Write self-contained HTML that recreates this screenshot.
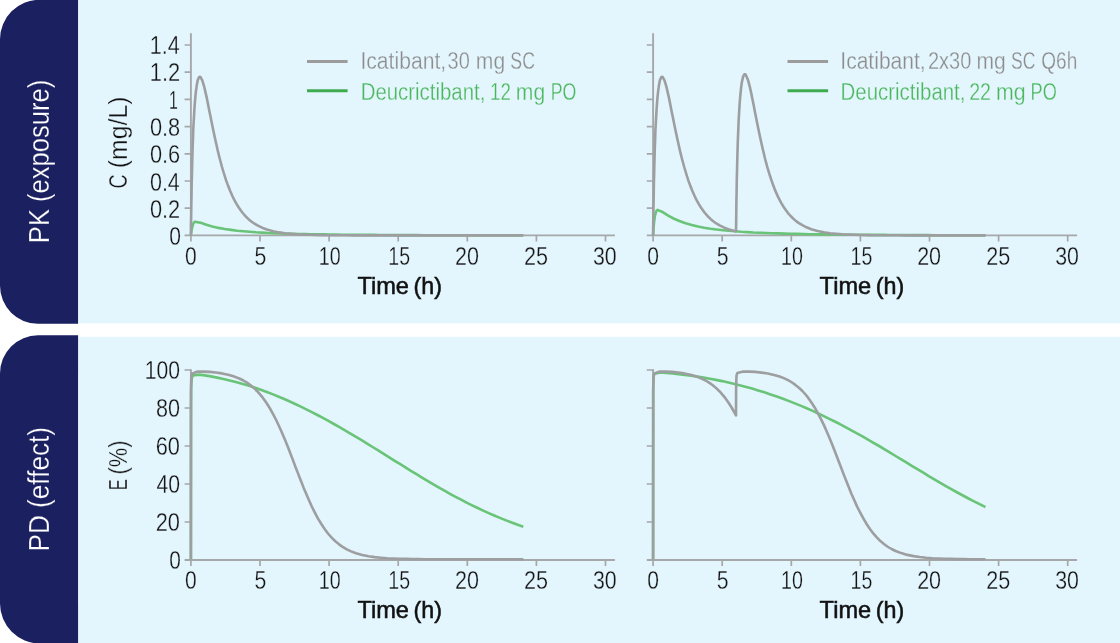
<!DOCTYPE html>
<html><head><meta charset="utf-8"><title>PK/PD</title>
<style>
html,body{margin:0;padding:0;background:#fff;}
body{width:1120px;height:643px;overflow:hidden;font-family:"Liberation Sans",sans-serif;}
svg{display:block;will-change:transform;}
svg text{font-family:"Liberation Sans",sans-serif;}
</style></head><body>
<svg width="1120" height="643" viewBox="0 0 1120 643">
<rect width="1120" height="643" fill="#ffffff"/>
<rect x="78.9" y="0" width="1042" height="323.3" fill="#e3f5fd"/>
<rect x="78.9" y="336.8" width="1042" height="310" fill="#e3f5fd"/>
<path d="M78.1,-0.2H39.5A39.5,39.5 0 0 0 0,39.3V285.8A38,38 0 0 0 38,323.8H78.1Z" fill="#1b2060"/>
<path d="M78.1,335.3H38A38,38 0 0 0 0,373.3V603.5A40,40 0 0 0 40,643.5H78.1Z" fill="#1b2060"/>
<text transform="translate(49,243.15) rotate(-90)" font-size="29.5" fill="#ffffff" font-weight="normal" textLength="163.41" lengthAdjust="spacingAndGlyphs" stroke="#1b2060" stroke-width="0.3">PK (exposure)</text>
<text transform="translate(49,551.49) rotate(-90)" font-size="29.5" fill="#ffffff" font-weight="normal" textLength="124.50" lengthAdjust="spacingAndGlyphs" stroke="#1b2060" stroke-width="0.3">PD (effect)</text>
<path d="M190.9,33.3V235.4M184.6,235.4H614.9" stroke="#a6a7a9" stroke-width="1.9" fill="none"/>
<path d="M184.6,208.2H190.9M184.6,181.0H190.9M184.6,153.8H190.9M184.6,126.6H190.9M184.6,99.4H190.9M184.6,72.2H190.9M184.6,45.0H190.9M190.9,235.4V241.4M260.0,235.4V241.4M329.1,235.4V241.4M398.2,235.4V241.4M467.3,235.4V241.4M536.4,235.4V241.4M605.5,235.4V241.4" stroke="#a6a7a9" stroke-width="1.7" fill="none"/>
<path d="M190.9,235.4L191.7,229.3L193.2,223.5L194.8,221.7L200.7,222.8L206.4,224.8L212.3,226.4L218.5,227.9L224.8,229.0L231.0,229.9L237.2,230.7L243.4,231.3L249.6,231.8L255.9,232.3L262.1,232.6L268.3,233.0L274.3,233.2L280.3,233.5L286.3,233.7L292.3,233.8L298.7,234.0L304.9,234.1L311.1,234.2L317.4,234.3L323.6,234.4L329.8,234.5L336.0,234.6L342.2,234.7L348.4,234.7L354.7,234.8L360.9,234.8L367.1,234.9L373.3,234.9L379.5,235.0L385.8,235.0L392.0,235.0L398.2,235.1L404.4,235.1L410.6,235.1L416.9,235.1L423.1,235.2L429.3,235.2L435.5,235.2L441.7,235.2L448.0,235.2L454.2,235.2L460.4,235.2L466.6,235.3L472.8,235.3L479.0,235.3L485.3,235.3L491.5,235.3L497.7,235.3L503.9,235.3L510.1,235.3L516.4,235.3L522.6,235.3L523.3,235.3" stroke="#69c478" stroke-width="2.6" fill="none" stroke-linejoin="round"/>
<path d="M190.9,235.4L191.0,224.3L191.2,214.2L191.3,205.1L191.5,196.7L191.6,189.1L191.7,182.0L191.9,175.6L192.1,166.7L192.3,158.9L192.5,151.8L192.7,145.3L193.0,137.7L193.2,130.8L193.5,124.7L193.9,118.0L194.3,110.9L194.7,104.8L195.2,98.7L195.8,92.3L196.6,86.3L197.7,80.3L199.0,77.2L199.7,76.7L200.4,76.9L202.3,80.3L204.1,86.3L205.5,92.4L206.9,98.4L208.1,104.5L209.3,110.7L210.5,116.6L212.3,125.5L213.7,132.3L215.1,138.7L216.5,145.0L217.8,150.9L219.9,159.3L222.0,167.0L224.1,174.0L226.1,180.4L228.2,186.1L230.3,191.3L232.4,196.0L234.4,200.2L236.5,203.9L238.6,207.3L240.7,210.3L242.7,213.0L245.5,216.2L248.3,218.9L251.0,221.2L254.5,223.7L257.9,225.7L262.1,227.7L266.9,229.5L273.1,231.2L279.1,232.4L285.0,233.2L291.0,233.8L297.3,234.3L303.5,234.6L309.8,234.8L316.0,235.0L322.2,235.1L328.4,235.2L334.6,235.3L340.8,235.3L347.1,235.3L353.3,235.4L359.5,235.4L365.7,235.4L371.9,235.4L378.2,235.4L384.4,235.4L390.6,235.4L396.8,235.4L403.0,235.4L409.3,235.4L415.5,235.4L421.7,235.4L427.9,235.4L434.1,235.4L440.4,235.4L446.6,235.4L452.8,235.4L459.0,235.4L465.2,235.4L471.4,235.4L477.7,235.4L483.9,235.4L490.1,235.4L496.3,235.4L502.5,235.4L508.8,235.4L515.0,235.4L521.2,235.4L523.3,235.4" stroke="#9d9ea0" stroke-width="2.6" fill="none" stroke-linejoin="round"/>
<path d="M190.9,369.2V560.0M184.6,560.0H614.9" stroke="#a6a7a9" stroke-width="1.9" fill="none"/>
<path d="M184.6,522.0H190.9M184.6,484.0H190.9M184.6,446.0H190.9M184.6,408.0H190.9M184.6,370.0H190.9M190.9,560.0V566.0M260.0,560.0V566.0M329.1,560.0V566.0M398.2,560.0V566.0M467.3,560.0V566.0M536.4,560.0V566.0M605.5,560.0V566.0" stroke="#a6a7a9" stroke-width="1.7" fill="none"/>
<path d="M190.9,559.3L191.0,430.9L191.0,407.0L191.1,396.9L191.2,387.8L191.5,381.2L192.0,377.4L192.9,375.4L198.9,374.6L204.9,375.4L210.8,376.4L217.2,377.6L223.4,378.9L229.6,380.4L235.8,382.0L242.0,383.7L248.3,385.5L254.5,387.5L260.7,389.7L266.9,392.0L273.1,394.4L278.7,396.7L284.3,399.0L289.8,401.5L295.2,404.0L300.8,406.6L306.3,409.3L311.8,412.1L317.4,415.0L322.9,417.9L328.4,420.9L333.9,424.0L339.5,427.2L345.0,430.4L350.5,433.6L356.0,436.9L361.6,440.2L367.1,443.6L372.6,447.0L378.2,450.4L383.7,453.9L389.2,457.3L394.7,460.8L400.3,464.2L405.8,467.7L411.3,471.1L416.9,474.4L422.4,477.8L427.9,481.1L433.4,484.4L439.0,487.6L444.5,490.7L450.0,493.8L455.6,496.8L461.1,499.7L466.6,502.6L472.1,505.3L477.7,508.0L483.2,510.6L488.7,513.1L494.2,515.5L500.5,518.1L506.7,520.6L512.9,523.0L519.1,525.3L523.3,526.7" stroke="#69c478" stroke-width="2.6" fill="none" stroke-linejoin="round"/>
<path d="M190.9,559.3L191.0,404.5L191.0,389.4L191.2,380.7L191.5,376.0L191.9,373.7L197.5,371.5L203.5,371.6L209.6,371.9L215.8,372.5L222.0,373.4L228.2,374.7L234.4,376.6L239.3,378.5L243.4,380.5L246.9,382.6L250.3,385.0L253.8,387.9L257.2,391.2L260.0,394.3L262.8,397.7L266.2,402.5L269.7,408.0L273.1,414.1L275.9,419.5L278.5,425.0L281.0,430.5L283.4,436.1L285.8,441.8L288.1,447.5L290.3,453.2L292.5,458.9L295.2,466.2L298.0,473.4L300.8,480.5L303.5,487.4L306.3,494.1L309.1,500.5L311.8,506.5L314.6,512.1L318.0,518.6L321.5,524.3L325.0,529.5L328.4,534.0L331.9,537.9L335.3,541.2L338.8,544.1L342.2,546.6L346.4,549.1L350.5,551.1L356.0,553.2L362.3,554.9L368.5,556.2L374.7,557.1L380.9,557.7L387.1,558.2L393.4,558.5L399.6,558.7L405.8,558.9L412.0,559.0L418.2,559.1L424.5,559.2L430.7,559.2L436.9,559.2L443.1,559.2L449.3,559.3L455.6,559.3L461.8,559.3L468.0,559.3L474.2,559.3L480.4,559.3L486.6,559.3L492.9,559.3L499.1,559.3L505.3,559.3L511.5,559.3L517.7,559.3L523.3,559.3" stroke="#9d9ea0" stroke-width="2.6" fill="none" stroke-linejoin="round"/>
<text x="184.98" y="264.8" font-size="25.8" fill="#141414" font-weight="normal" textLength="11.71" lengthAdjust="spacingAndGlyphs" stroke="#e3f5fd" stroke-width="0.3">0</text>
<text x="254.58" y="264.8" font-size="25.8" fill="#141414" font-weight="normal" textLength="11.83" lengthAdjust="spacingAndGlyphs" stroke="#e3f5fd" stroke-width="0.3">5</text>
<text x="318.77" y="264.8" font-size="25.8" fill="#141414" font-weight="normal" textLength="21.85" lengthAdjust="spacingAndGlyphs" stroke="#e3f5fd" stroke-width="0.3">10</text>
<text x="388.37" y="264.8" font-size="25.8" fill="#141414" font-weight="normal" textLength="21.74" lengthAdjust="spacingAndGlyphs" stroke="#e3f5fd" stroke-width="0.3">15</text>
<text x="454.96" y="264.8" font-size="25.8" fill="#141414" font-weight="normal" textLength="23.93" lengthAdjust="spacingAndGlyphs" stroke="#e3f5fd" stroke-width="0.3">20</text>
<text x="524.05" y="264.8" font-size="25.8" fill="#141414" font-weight="normal" textLength="24.04" lengthAdjust="spacingAndGlyphs" stroke="#e3f5fd" stroke-width="0.3">25</text>
<text x="592.97" y="264.8" font-size="25.8" fill="#141414" font-weight="normal" textLength="23.71" lengthAdjust="spacingAndGlyphs" stroke="#e3f5fd" stroke-width="0.3">30</text>
<text x="184.98" y="588.9" font-size="25.8" fill="#141414" font-weight="normal" textLength="11.71" lengthAdjust="spacingAndGlyphs" stroke="#e3f5fd" stroke-width="0.3">0</text>
<text x="254.58" y="588.9" font-size="25.8" fill="#141414" font-weight="normal" textLength="11.83" lengthAdjust="spacingAndGlyphs" stroke="#e3f5fd" stroke-width="0.3">5</text>
<text x="318.77" y="588.9" font-size="25.8" fill="#141414" font-weight="normal" textLength="21.85" lengthAdjust="spacingAndGlyphs" stroke="#e3f5fd" stroke-width="0.3">10</text>
<text x="388.37" y="588.9" font-size="25.8" fill="#141414" font-weight="normal" textLength="21.74" lengthAdjust="spacingAndGlyphs" stroke="#e3f5fd" stroke-width="0.3">15</text>
<text x="454.96" y="588.9" font-size="25.8" fill="#141414" font-weight="normal" textLength="23.93" lengthAdjust="spacingAndGlyphs" stroke="#e3f5fd" stroke-width="0.3">20</text>
<text x="524.05" y="588.9" font-size="25.8" fill="#141414" font-weight="normal" textLength="24.04" lengthAdjust="spacingAndGlyphs" stroke="#e3f5fd" stroke-width="0.3">25</text>
<text x="592.97" y="588.9" font-size="25.8" fill="#141414" font-weight="normal" textLength="23.71" lengthAdjust="spacingAndGlyphs" stroke="#e3f5fd" stroke-width="0.3">30</text>
<text x="357.42" y="293.7" font-size="24.5" fill="#111111" font-weight="normal" textLength="51.58" lengthAdjust="spacingAndGlyphs" stroke="#111111" stroke-width="0.55">Time</text>
<text x="413.47" y="293.7" font-size="24.5" fill="#111111" font-weight="normal" textLength="28.50" lengthAdjust="spacingAndGlyphs" stroke="#111111" stroke-width="0.55">(h)</text>
<text x="357.42" y="617.9" font-size="24.5" fill="#111111" font-weight="normal" textLength="51.58" lengthAdjust="spacingAndGlyphs" stroke="#111111" stroke-width="0.55">Time</text>
<text x="413.47" y="617.9" font-size="24.5" fill="#111111" font-weight="normal" textLength="28.50" lengthAdjust="spacingAndGlyphs" stroke="#111111" stroke-width="0.55">(h)</text>
<path d="M653.1,33.3V235.4M646.8000000000001,235.4H1077.1" stroke="#a6a7a9" stroke-width="1.9" fill="none"/>
<path d="M646.8000000000001,208.2H653.1M646.8000000000001,181.0H653.1M646.8000000000001,153.8H653.1M646.8000000000001,126.6H653.1M646.8000000000001,99.4H653.1M646.8000000000001,72.2H653.1M646.8000000000001,45.0H653.1M653.1,235.4V241.4M722.2,235.4V241.4M791.3,235.4V241.4M860.4,235.4V241.4M929.5,235.4V241.4M998.6,235.4V241.4M1067.7,235.4V241.4" stroke="#a6a7a9" stroke-width="1.7" fill="none"/>
<path d="M653.1,235.4L653.5,228.6L654.1,222.0L654.9,215.8L656.3,211.1L657.5,209.9L663.1,212.3L668.2,215.6L673.5,218.5L679.4,221.0L685.6,223.2L691.8,225.0L698.0,226.5L704.2,227.7L710.5,228.7L716.7,229.5L722.9,230.2L729.1,230.8L735.3,231.3L741.3,231.8L747.4,232.1L753.4,232.5L759.5,232.7L765.7,233.0L772.0,233.2L778.2,233.4L784.4,233.6L790.6,233.8L796.8,233.9L803.0,234.0L809.3,234.2L815.5,234.3L821.7,234.4L827.9,234.4L834.1,234.5L840.4,234.6L846.6,234.7L852.8,234.7L859.0,234.8L865.2,234.8L871.5,234.9L877.7,234.9L883.9,234.9L890.1,235.0L896.3,235.0L902.6,235.0L908.8,235.1L915.0,235.1L921.2,235.1L927.4,235.1L933.6,235.2L939.9,235.2L946.1,235.2L952.3,235.2L958.5,235.2L964.7,235.2L971.0,235.2L977.2,235.3L983.4,235.3L985.5,235.3" stroke="#69c478" stroke-width="2.6" fill="none" stroke-linejoin="round"/>
<path d="M653.1,235.4L653.2,224.3L653.4,214.2L653.5,205.1L653.7,196.7L653.8,189.1L653.9,182.0L654.1,175.6L654.3,166.7L654.5,158.9L654.7,151.8L654.9,145.3L655.2,137.7L655.4,130.8L655.7,124.7L656.1,118.0L656.5,110.9L656.9,104.8L657.4,98.7L658.0,92.3L658.8,86.3L659.9,80.3L661.2,77.2L661.9,76.7L662.6,76.9L664.5,80.3L666.3,86.3L667.7,92.4L669.1,98.4L670.3,104.5L671.5,110.7L672.7,116.6L674.5,125.5L675.9,132.3L677.3,138.7L678.7,145.0L680.0,150.9L682.1,159.3L684.2,167.0L686.3,174.0L688.3,180.4L690.4,186.1L692.5,191.3L694.6,196.0L696.6,200.2L698.7,203.9L700.8,207.3L702.9,210.3L704.9,213.0L707.7,216.2L710.5,218.9L713.2,221.2L716.7,223.7L720.1,225.7L724.3,227.7L729.1,229.5L735.3,231.2L736.0,231.4L736.2,220.3L736.3,210.3L736.4,201.1L736.6,192.8L736.7,185.2L736.8,178.2L737.0,171.7L737.2,163.0L737.4,155.1L737.6,148.1L737.8,141.7L738.1,134.1L738.4,127.3L738.6,121.3L739.0,114.5L739.4,107.6L739.8,101.5L740.4,94.8L741.0,88.7L741.8,82.5L743.1,76.6L744.2,74.5L744.9,74.2L745.7,74.7L748.1,80.3L749.7,86.3L751.1,92.5L752.3,98.5L753.6,104.7L754.7,110.7L755.9,116.7L757.4,124.3L758.8,131.1L760.2,137.7L761.6,144.0L763.0,150.0L765.0,158.5L767.1,166.3L769.2,173.4L771.3,179.8L773.3,185.6L775.4,190.9L777.5,195.6L779.6,199.8L781.6,203.6L783.7,207.0L785.8,210.1L787.8,212.8L790.6,216.0L793.4,218.7L796.1,221.1L798.9,223.1L802.4,225.2L806.5,227.3L811.3,229.2L817.6,231.0L823.8,232.3L830.0,233.2L836.2,233.8L842.4,234.3L848.7,234.6L854.9,234.8L861.1,235.0L867.3,235.1L873.5,235.2L879.7,235.3L886.0,235.3L892.2,235.3L898.4,235.3L904.6,235.4L910.8,235.4L917.1,235.4L923.3,235.4L929.5,235.4L935.7,235.4L941.9,235.4L948.2,235.4L954.4,235.4L960.6,235.4L966.8,235.4L973.0,235.4L979.3,235.4L985.5,235.4" stroke="#9d9ea0" stroke-width="2.6" fill="none" stroke-linejoin="round"/>
<path d="M653.1,369.2V560.0M646.8000000000001,560.0H1077.1" stroke="#a6a7a9" stroke-width="1.9" fill="none"/>
<path d="M646.8000000000001,522.0H653.1M646.8000000000001,484.0H653.1M646.8000000000001,446.0H653.1M646.8000000000001,408.0H653.1M646.8000000000001,370.0H653.1M653.1,560.0V566.0M722.2,560.0V566.0M791.3,560.0V566.0M860.4,560.0V566.0M929.5,560.0V566.0M998.6,560.0V566.0M1067.7,560.0V566.0" stroke="#a6a7a9" stroke-width="1.7" fill="none"/>
<path d="M653.1,559.3L653.2,408.9L653.2,392.1L653.3,385.7L653.5,378.7L653.9,375.4L654.5,373.6L660.4,372.5L666.4,372.9L672.4,373.5L678.7,374.2L684.9,374.9L691.1,375.7L697.3,376.6L703.5,377.6L709.8,378.7L716.0,379.9L722.2,381.1L728.4,382.5L734.6,384.0L740.5,385.4L746.3,387.0L752.1,388.6L758.1,390.4L764.4,392.3L770.6,394.4L776.8,396.5L783.0,398.8L789.2,401.1L795.4,403.6L801.7,406.1L807.2,408.5L812.7,410.9L818.2,413.5L823.8,416.1L829.3,418.8L834.8,421.5L840.4,424.4L845.9,427.3L851.4,430.3L856.9,433.3L862.5,436.4L868.0,439.6L873.5,442.8L879.1,446.0L884.6,449.3L890.1,452.6L895.6,456.0L901.2,459.3L906.7,462.7L912.2,466.1L917.8,469.4L923.3,472.7L928.8,476.1L934.3,479.3L939.9,482.6L945.4,485.8L950.9,488.9L956.4,492.0L962.0,495.0L967.5,498.0L973.0,500.9L978.6,503.7L984.1,506.4L985.5,507.0" stroke="#69c478" stroke-width="2.6" fill="none" stroke-linejoin="round"/>
<path d="M653.1,559.3L653.2,404.5L653.2,389.4L653.4,380.7L653.7,376.0L654.1,373.7L659.7,371.5L665.7,371.6L671.8,371.9L678.0,372.5L684.2,373.4L690.4,374.7L696.6,376.6L701.5,378.5L705.6,380.5L709.1,382.6L712.5,385.0L716.0,387.9L719.4,391.2L722.2,394.3L725.0,397.7L728.4,402.5L731.9,408.0L735.3,414.1L736.0,415.4L736.1,391.9L736.2,384.7L736.4,377.7L736.7,374.7L737.4,372.9L743.3,371.5L749.3,371.6L755.3,371.9L761.6,372.6L767.8,373.5L774.0,374.9L779.6,376.5L784.4,378.4L788.5,380.4L792.0,382.5L795.4,384.9L798.9,387.7L802.4,391.0L805.1,394.0L807.9,397.4L811.3,402.2L814.8,407.7L818.2,413.8L821.0,419.1L823.8,424.9L826.5,431.0L829.3,437.5L832.1,444.3L834.8,451.3L837.6,458.5L840.4,465.7L843.1,472.9L845.9,480.0L848.7,487.0L851.4,493.7L854.2,500.1L856.9,506.1L859.7,511.7L863.2,518.2L866.6,524.0L870.1,529.2L873.5,533.7L877.0,537.7L880.4,541.1L883.9,544.0L887.3,546.5L891.5,549.0L895.6,551.0L901.2,553.1L907.4,554.9L913.6,556.1L919.8,557.0L926.0,557.7L932.3,558.2L938.5,558.5L944.7,558.7L950.9,558.9L957.1,559.0L963.4,559.1L969.6,559.2L975.8,559.2L982.0,559.2L985.5,559.2" stroke="#9d9ea0" stroke-width="2.6" fill="none" stroke-linejoin="round"/>
<text x="647.18" y="264.8" font-size="25.8" fill="#141414" font-weight="normal" textLength="11.71" lengthAdjust="spacingAndGlyphs" stroke="#e3f5fd" stroke-width="0.3">0</text>
<text x="716.78" y="264.8" font-size="25.8" fill="#141414" font-weight="normal" textLength="11.83" lengthAdjust="spacingAndGlyphs" stroke="#e3f5fd" stroke-width="0.3">5</text>
<text x="780.97" y="264.8" font-size="25.8" fill="#141414" font-weight="normal" textLength="21.85" lengthAdjust="spacingAndGlyphs" stroke="#e3f5fd" stroke-width="0.3">10</text>
<text x="850.57" y="264.8" font-size="25.8" fill="#141414" font-weight="normal" textLength="21.74" lengthAdjust="spacingAndGlyphs" stroke="#e3f5fd" stroke-width="0.3">15</text>
<text x="917.16" y="264.8" font-size="25.8" fill="#141414" font-weight="normal" textLength="23.93" lengthAdjust="spacingAndGlyphs" stroke="#e3f5fd" stroke-width="0.3">20</text>
<text x="986.25" y="264.8" font-size="25.8" fill="#141414" font-weight="normal" textLength="24.04" lengthAdjust="spacingAndGlyphs" stroke="#e3f5fd" stroke-width="0.3">25</text>
<text x="1055.17" y="264.8" font-size="25.8" fill="#141414" font-weight="normal" textLength="23.71" lengthAdjust="spacingAndGlyphs" stroke="#e3f5fd" stroke-width="0.3">30</text>
<text x="647.18" y="588.9" font-size="25.8" fill="#141414" font-weight="normal" textLength="11.71" lengthAdjust="spacingAndGlyphs" stroke="#e3f5fd" stroke-width="0.3">0</text>
<text x="716.78" y="588.9" font-size="25.8" fill="#141414" font-weight="normal" textLength="11.83" lengthAdjust="spacingAndGlyphs" stroke="#e3f5fd" stroke-width="0.3">5</text>
<text x="780.97" y="588.9" font-size="25.8" fill="#141414" font-weight="normal" textLength="21.85" lengthAdjust="spacingAndGlyphs" stroke="#e3f5fd" stroke-width="0.3">10</text>
<text x="850.57" y="588.9" font-size="25.8" fill="#141414" font-weight="normal" textLength="21.74" lengthAdjust="spacingAndGlyphs" stroke="#e3f5fd" stroke-width="0.3">15</text>
<text x="917.16" y="588.9" font-size="25.8" fill="#141414" font-weight="normal" textLength="23.93" lengthAdjust="spacingAndGlyphs" stroke="#e3f5fd" stroke-width="0.3">20</text>
<text x="986.25" y="588.9" font-size="25.8" fill="#141414" font-weight="normal" textLength="24.04" lengthAdjust="spacingAndGlyphs" stroke="#e3f5fd" stroke-width="0.3">25</text>
<text x="1055.17" y="588.9" font-size="25.8" fill="#141414" font-weight="normal" textLength="23.71" lengthAdjust="spacingAndGlyphs" stroke="#e3f5fd" stroke-width="0.3">30</text>
<text x="819.62" y="293.7" font-size="24.5" fill="#111111" font-weight="normal" textLength="51.58" lengthAdjust="spacingAndGlyphs" stroke="#111111" stroke-width="0.55">Time</text>
<text x="875.67" y="293.7" font-size="24.5" fill="#111111" font-weight="normal" textLength="28.50" lengthAdjust="spacingAndGlyphs" stroke="#111111" stroke-width="0.55">(h)</text>
<text x="819.62" y="617.9" font-size="24.5" fill="#111111" font-weight="normal" textLength="51.58" lengthAdjust="spacingAndGlyphs" stroke="#111111" stroke-width="0.55">Time</text>
<text x="875.67" y="617.9" font-size="24.5" fill="#111111" font-weight="normal" textLength="28.50" lengthAdjust="spacingAndGlyphs" stroke="#111111" stroke-width="0.55">(h)</text>
<text x="169.18" y="245.1" font-size="25.8" fill="#141414" font-weight="normal" textLength="11.71" lengthAdjust="spacingAndGlyphs" stroke="#e3f5fd" stroke-width="0.3">0</text>
<text x="149.96" y="217.8" font-size="25.8" fill="#141414" font-weight="normal" textLength="30.28" lengthAdjust="spacingAndGlyphs" stroke="#e3f5fd" stroke-width="0.3">0.2</text>
<text x="149.97" y="190.5" font-size="25.8" fill="#141414" font-weight="normal" textLength="29.84" lengthAdjust="spacingAndGlyphs" stroke="#e3f5fd" stroke-width="0.3">0.4</text>
<text x="149.96" y="163.2" font-size="25.8" fill="#141414" font-weight="normal" textLength="30.28" lengthAdjust="spacingAndGlyphs" stroke="#e3f5fd" stroke-width="0.3">0.6</text>
<text x="149.96" y="135.8" font-size="25.8" fill="#141414" font-weight="normal" textLength="30.28" lengthAdjust="spacingAndGlyphs" stroke="#e3f5fd" stroke-width="0.3">0.8</text>
<text x="168.92" y="108.5" font-size="25.8" fill="#141414" font-weight="normal" textLength="8.86" lengthAdjust="spacingAndGlyphs" stroke="#e3f5fd" stroke-width="0.3">1</text>
<text x="149.82" y="81.2" font-size="25.8" fill="#141414" font-weight="normal" textLength="30.43" lengthAdjust="spacingAndGlyphs" stroke="#e3f5fd" stroke-width="0.3">1.2</text>
<text x="149.84" y="53.9" font-size="25.8" fill="#141414" font-weight="normal" textLength="29.98" lengthAdjust="spacingAndGlyphs" stroke="#e3f5fd" stroke-width="0.3">1.4</text>
<text x="169.19" y="568.9" font-size="25.8" fill="#141414" font-weight="normal" textLength="11.59" lengthAdjust="spacingAndGlyphs" stroke="#e3f5fd" stroke-width="0.3">0</text>
<text x="155.74" y="530.9" font-size="25.8" fill="#141414" font-weight="normal" textLength="24.26" lengthAdjust="spacingAndGlyphs" stroke="#e3f5fd" stroke-width="0.3">20</text>
<text x="156.39" y="492.9" font-size="25.8" fill="#141414" font-weight="normal" textLength="23.59" lengthAdjust="spacingAndGlyphs" stroke="#e3f5fd" stroke-width="0.3">40</text>
<text x="155.74" y="454.9" font-size="25.8" fill="#141414" font-weight="normal" textLength="24.26" lengthAdjust="spacingAndGlyphs" stroke="#e3f5fd" stroke-width="0.3">60</text>
<text x="155.96" y="416.9" font-size="25.8" fill="#141414" font-weight="normal" textLength="24.03" lengthAdjust="spacingAndGlyphs" stroke="#e3f5fd" stroke-width="0.3">80</text>
<text x="144.77" y="378.9" font-size="25.8" fill="#141414" font-weight="normal" textLength="35.29" lengthAdjust="spacingAndGlyphs" stroke="#e3f5fd" stroke-width="0.3">100</text>
<text transform="translate(127.3,188.54) rotate(-90)" font-size="25.8" fill="#141414" font-weight="normal" textLength="13.99" lengthAdjust="spacingAndGlyphs" stroke="#e3f5fd" stroke-width="0.3">C</text>
<text transform="translate(127.3,168.14) rotate(-90)" font-size="25.8" fill="#141414" font-weight="normal" textLength="71.62" lengthAdjust="spacingAndGlyphs" stroke="#e3f5fd" stroke-width="0.3">(mg/L)</text>
<text transform="translate(127.3,490.29) rotate(-90)" font-size="25.8" fill="#141414" font-weight="normal" textLength="11.11" lengthAdjust="spacingAndGlyphs" stroke="#e3f5fd" stroke-width="0.3">E</text>
<text transform="translate(127.3,474.48) rotate(-90)" font-size="25.8" fill="#141414" font-weight="normal" textLength="34.16" lengthAdjust="spacingAndGlyphs" stroke="#e3f5fd" stroke-width="0.3">(%)</text>
<path d="M307,61.5h40.6" stroke="#9c9c9c" stroke-width="3"/>
<path d="M307,90.8h40.6" stroke="#3fab50" stroke-width="3"/>
<text x="360.40" y="69.2" font-size="23.5" fill="#8c8c8c" font-weight="normal" textLength="85.80" lengthAdjust="spacingAndGlyphs" stroke="#e3f5fd" stroke-width="0.3">Icatibant,</text>
<text x="447.55" y="69.2" font-size="23.5" fill="#8c8c8c" font-weight="normal" textLength="22.21" lengthAdjust="spacingAndGlyphs" stroke="#e3f5fd" stroke-width="0.3">30</text>
<text x="475.85" y="69.2" font-size="23.5" fill="#8c8c8c" font-weight="normal" textLength="29.30" lengthAdjust="spacingAndGlyphs" stroke="#e3f5fd" stroke-width="0.3">mg</text>
<text x="510.35" y="69.2" font-size="23.5" fill="#8c8c8c" font-weight="normal" textLength="24.63" lengthAdjust="spacingAndGlyphs" stroke="#e3f5fd" stroke-width="0.3">SC</text>
<text x="360.68" y="100.1" font-size="23.5" fill="#4ab75c" font-weight="normal" textLength="124.69" lengthAdjust="spacingAndGlyphs" stroke="#e3f5fd" stroke-width="0.3">Deucrictibant,</text>
<text x="490.11" y="100.1" font-size="23.5" fill="#4ab75c" font-weight="normal" textLength="20.80" lengthAdjust="spacingAndGlyphs" stroke="#e3f5fd" stroke-width="0.3">12</text>
<text x="515.85" y="100.1" font-size="23.5" fill="#4ab75c" font-weight="normal" textLength="29.30" lengthAdjust="spacingAndGlyphs" stroke="#e3f5fd" stroke-width="0.3">mg</text>
<text x="550.78" y="100.1" font-size="23.5" fill="#4ab75c" font-weight="normal" textLength="25.64" lengthAdjust="spacingAndGlyphs" stroke="#e3f5fd" stroke-width="0.3">PO</text>
<path d="M787.5,61.5h40.6" stroke="#9c9c9c" stroke-width="3"/>
<path d="M787.5,90.8h40.6" stroke="#3fab50" stroke-width="3"/>
<text x="840.31" y="69.2" font-size="23.5" fill="#8c8c8c" font-weight="normal" textLength="85.39" lengthAdjust="spacingAndGlyphs" stroke="#e3f5fd" stroke-width="0.3">Icatibant,</text>
<text x="927.95" y="69.2" font-size="23.5" fill="#8c8c8c" font-weight="normal" textLength="43.37" lengthAdjust="spacingAndGlyphs" stroke="#e3f5fd" stroke-width="0.3">2x30</text>
<text x="976.55" y="69.2" font-size="23.5" fill="#8c8c8c" font-weight="normal" textLength="29.30" lengthAdjust="spacingAndGlyphs" stroke="#e3f5fd" stroke-width="0.3">mg</text>
<text x="1011.05" y="69.2" font-size="23.5" fill="#8c8c8c" font-weight="normal" textLength="24.42" lengthAdjust="spacingAndGlyphs" stroke="#e3f5fd" stroke-width="0.3">SC</text>
<text x="1041.29" y="69.2" font-size="23.5" fill="#8c8c8c" font-weight="normal" textLength="35.96" lengthAdjust="spacingAndGlyphs" stroke="#e3f5fd" stroke-width="0.3">Q6h</text>
<text x="840.58" y="100.1" font-size="23.5" fill="#4ab75c" font-weight="normal" textLength="124.90" lengthAdjust="spacingAndGlyphs" stroke="#e3f5fd" stroke-width="0.3">Deucrictibant,</text>
<text x="969.16" y="100.1" font-size="23.5" fill="#4ab75c" font-weight="normal" textLength="21.89" lengthAdjust="spacingAndGlyphs" stroke="#e3f5fd" stroke-width="0.3">22</text>
<text x="995.94" y="100.1" font-size="23.5" fill="#4ab75c" font-weight="normal" textLength="29.63" lengthAdjust="spacingAndGlyphs" stroke="#e3f5fd" stroke-width="0.3">mg</text>
<text x="1030.55" y="100.1" font-size="23.5" fill="#4ab75c" font-weight="normal" textLength="26.19" lengthAdjust="spacingAndGlyphs" stroke="#e3f5fd" stroke-width="0.3">PO</text>
</svg>
</body></html>
